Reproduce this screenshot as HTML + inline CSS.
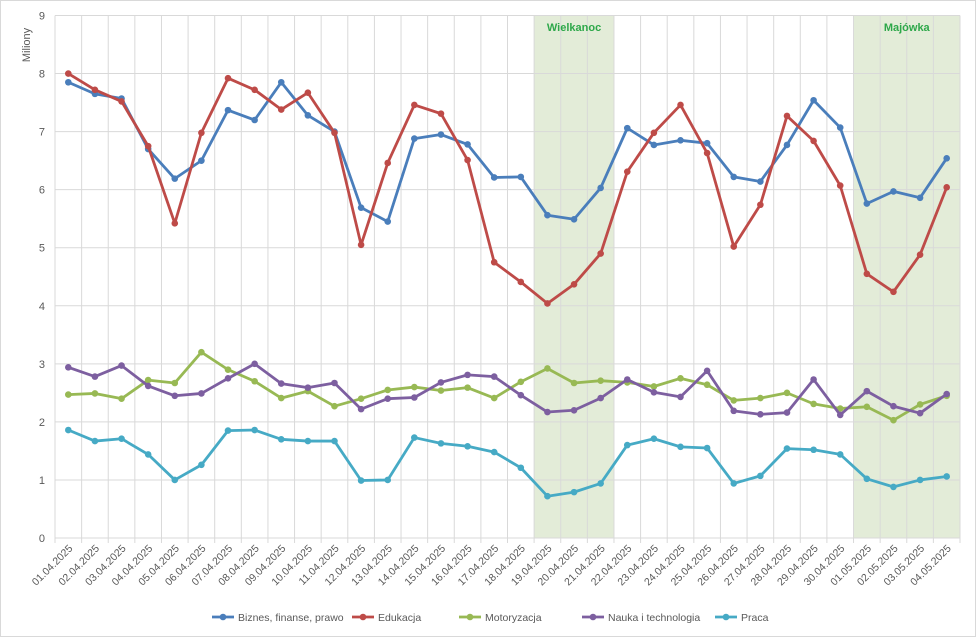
<!DOCTYPE html>
<html><head><meta charset="utf-8">
<style>
body{margin:0;background:#fff;font-family:"Liberation Sans",sans-serif;}
svg{display:block}
</style></head>
<body>
<svg id="chart" width="976" height="637" viewBox="0 0 976 637" xmlns="http://www.w3.org/2000/svg">
<rect x="0.5" y="0.5" width="975" height="636" fill="#fff" stroke="#d9d9d9"/>
<text transform="translate(30,45) rotate(-90)" text-anchor="middle" font-size="11" fill="#595959">Miliony</text>
<g id="bands"></g><g id="grid"></g><g id="axes"></g><g id="series"></g><g id="legend"></g>
</svg>
<script>
const categories=["01.04.2025","02.04.2025","03.04.2025","04.04.2025","05.04.2025","06.04.2025","07.04.2025","08.04.2025","09.04.2025","10.04.2025","11.04.2025","12.04.2025","13.04.2025","14.04.2025","15.04.2025","16.04.2025","17.04.2025","18.04.2025","19.04.2025","20.04.2025","21.04.2025","22.04.2025","23.04.2025","24.04.2025","25.04.2025","26.04.2025","27.04.2025","28.04.2025","29.04.2025","30.04.2025","01.05.2025","02.05.2025","03.05.2025","04.05.2025"];
const seriesNames=["Biznes, finanse, prawo","Edukacja","Motoryzacja","Nauka i technologia","Praca"];
const seriesColors=["#4a7ebb","#be4b48","#98b954","#7d5fa0","#46aac5"];
const biznes=[7.85,7.65,7.57,6.7,6.19,6.5,7.37,7.2,7.85,7.28,7.0,5.69,5.45,6.88,6.95,6.78,6.21,6.22,5.56,5.49,6.03,7.06,6.77,6.85,6.8,6.22,6.14,6.77,7.54,7.07,5.76,5.97,5.86,6.54];
const edukacja=[8.0,7.72,7.52,6.75,5.42,6.98,7.92,7.72,7.38,7.67,6.98,5.05,6.46,7.46,7.31,6.51,4.75,4.41,4.04,4.37,4.9,6.31,6.98,7.46,6.63,5.02,5.74,7.27,6.84,6.07,4.55,4.24,4.88,6.04];
const motoryzacja=[2.47,2.49,2.4,2.72,2.67,3.2,2.9,2.7,2.41,2.53,2.27,2.4,2.55,2.6,2.54,2.59,2.41,2.69,2.92,2.67,2.71,2.68,2.61,2.75,2.64,2.37,2.41,2.5,2.31,2.23,2.26,2.03,2.3,2.45];
const nauka=[2.94,2.78,2.97,2.62,2.45,2.49,2.75,3.0,2.66,2.59,2.67,2.22,2.4,2.42,2.68,2.81,2.78,2.46,2.17,2.2,2.41,2.73,2.51,2.43,2.88,2.19,2.13,2.16,2.73,2.12,2.53,2.27,2.15,2.48];
const praca=[1.86,1.67,1.71,1.44,1.0,1.26,1.85,1.86,1.7,1.67,1.67,0.99,1.0,1.73,1.63,1.58,1.48,1.21,0.72,0.79,0.94,1.6,1.71,1.57,1.55,0.94,1.07,1.54,1.52,1.44,1.02,0.88,1.0,1.06];
const yTicks=[0,1,2,3,4,5,6,7,8,9];
const bandLabels=["Wielkanoc","Majówka"];
const bandStart=[18,30];
const bandEnd=[20,33];
const allSeries=[biznes,edukacja,motoryzacja,nauka,praca];

const NS="http://www.w3.org/2000/svg";
const L=55,R=960,T=15.5,B=538,YMAX=9;
const bw=(R-L)/categories.length;
const xC=i=>L+bw*(i+0.5);
const xE=i=>L+bw*i;
const y=v=>B-(v/YMAX)*(B-T);
function mk(tag,attrs,parent){const e=document.createElementNS(NS,tag);for(const k in attrs)e.setAttribute(k,attrs[k]);parent.appendChild(e);return e;}
const g=id=>document.getElementById(id);

bandLabels.forEach((lab,b)=>{
  const r=mk('rect',{x:xE(bandStart[b]),y:T,width:xE(bandEnd[b]+1)-xE(bandStart[b]),height:B-T,fill:'#e3ecd8'},g('bands'));
  
  
  const t=mk('text',{x:(xE(bandStart[b])+xE(bandEnd[b]+1))/2,y:31,'text-anchor':'middle','font-size':'11','font-weight':'bold',fill:'#2ea84a'},g('series'));
  t.textContent=lab;
  
  
});
yTicks.forEach(v=>{
  const l=mk('line',{x1:L,x2:R,y1:y(v),y2:y(v),stroke:'#d9d9d9','stroke-width':1},g('grid'));
  
  
  const t=mk('text',{x:L-10,y:y(v)+4,'text-anchor':'end','font-size':'11',fill:'#595959'},g('axes'));
  t.textContent=v;
  
  
});
for(let i=0;i<=categories.length;i++){
  const l=mk('line',{x1:xE(i),x2:xE(i),y1:T,y2:B+5,stroke:'#d9d9d9','stroke-width':1},g('grid'));
  
  
}
categories.forEach((c,i)=>{
  const t=mk('text',{transform:`translate(${xC(i)+5},${B+11}) rotate(-45)`,'text-anchor':'end','font-size':'10.5',fill:'#595959'},g('axes'));
  t.textContent=c;
  
  
});
allSeries.forEach((data,s)=>{
  const grp=mk('g',{},g('series'));
  
  
  const pl=mk('polyline',{points:data.map((v,i)=>xC(i)+','+y(v)).join(' '),fill:'none',stroke:seriesColors[s],'stroke-width':2.8,'stroke-linejoin':'round'},grp);
  
  
  data.forEach((v,i)=>{
    const c=mk('circle',{cx:xC(i),cy:y(v),r:3.3,fill:seriesColors[s]},grp);
    
    
  });
});
const legX=[212,352,459,582,715];
seriesNames.forEach((n,s)=>{
  const lg=mk('g',{},g('legend'));
  
  
  mk('line',{x1:legX[s],x2:legX[s]+22,y1:617,y2:617,stroke:seriesColors[s],'stroke-width':2.8},lg);
  mk('circle',{cx:legX[s]+11,cy:617,r:3.3,fill:seriesColors[s]},lg);
  const t=mk('text',{x:legX[s]+26,y:621,'font-size':'10.5',fill:'#595959'},lg);
  t.textContent=n;
});
</script>
</body></html>
